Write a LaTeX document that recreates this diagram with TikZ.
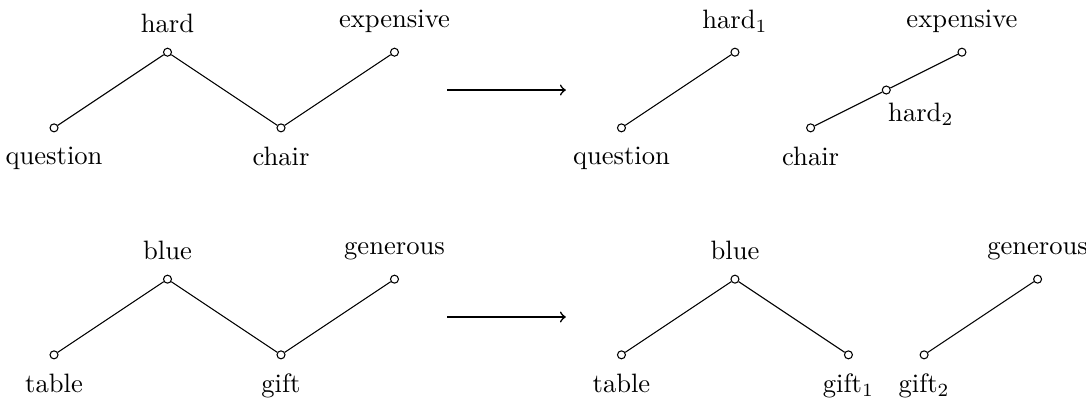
\documentclass[tikz,border=0pt]{standalone}
\usetikzlibrary{arrows,positioning}
\tikzset{
  word/.style    = {draw, circle, inner sep=0pt, minimum size=3pt},
  link/.style    = {-, thin},
  split/.style   = {->, semithick, shorten >=1pt}
}
\begin{document}
\begin{tikzpicture}[label distance=2pt]
  \useasboundingbox (-0.714,-0.595) rectangle (13.64,4.69);
  % before
  \node[word] (q1) at (0,3)   [label=below:{question}] {};
  \node[word] (h1) at (1.5,4) [label=above:{hard}] {}
    edge [link] (q1);
  \node[word] (c1) at (3,3)   [label=below:{chair}] {}
    edge [link] (h1);
  \node[word] (e1) at (4.5,4) [label=above:{expensive}] {}
    edge [link] (c1);
  \coordinate (s1) at (5.2,3.5);
  \coordinate (t1) at (6.8,3.5);
  \draw[split] (s1) -- (t1);
  % after
  \node[word] (q2) at (7.5,3) [label=below:{question}] {};
  \node[word] (h2) at (9,4)   [label=above:{hard$_1$}] {}
    edge [link] (q2);
  \node[word] (c2) at (10,3)  [label=below:{chair}] {};
  \node[word] (hb) at (11,3.5)
    [label={[label distance=0pt, xshift=-4pt]below right:{hard$_2$}}] {}
    edge [link] (c2);
  \node[word] (e2) at (12,4)  [label=above:{expensive}] {}
    edge [link] (hb);

  % before
  \node[word] (tb1) at (0,0)   [label=below:{table}] {};
  \node[word] (bl1) at (1.5,1) [label=above:{blue}] {}
    edge [link] (tb1);
  \node[word] (gf1) at (3,0)   [label=below:{gift}] {}
    edge [link] (bl1);
  \node[word] (gn1) at (4.5,1) [label=above:{generous}] {}
    edge [link] (gf1);
  \coordinate (s2) at (5.2,0.5);
  \coordinate (t2) at (6.8,0.5);
  \draw[split] (s2) -- (t2);
  % after
  \node[word] (tb2) at (7.5,0)  [label=below:{table}] {};
  \node[word] (bl2) at (9,1)    [label=above:{blue}] {}
    edge [link] (tb2);
  \node[word] (ga)  at (10.5,0) [label=below:{gift$_1$}] {}
    edge [link] (bl2);
  \node[word] (gb)  at (11.5,0) [label=below:{gift$_2$}] {};
  \node[word] (gn2) at (13,1)   [label=above:{generous}] {}
    edge [link] (gb);
\end{tikzpicture}
\end{document}
